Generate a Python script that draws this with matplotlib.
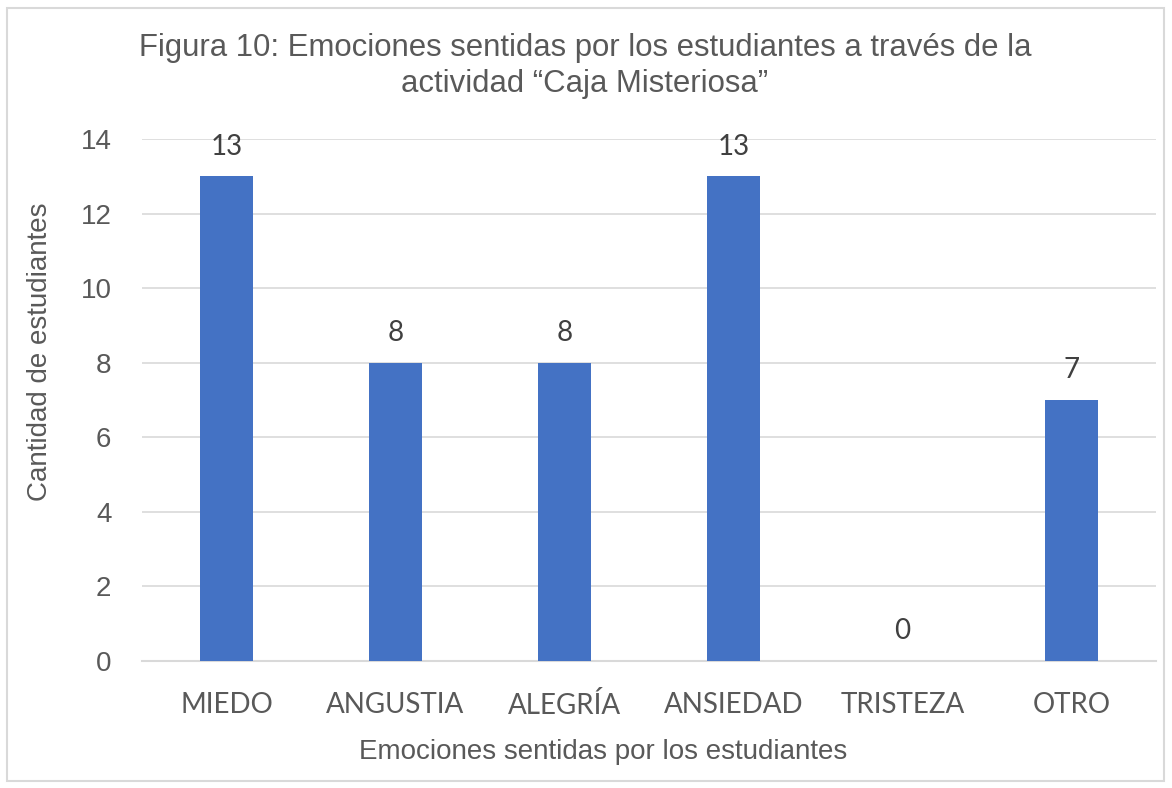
import matplotlib
matplotlib.use("Agg")
import matplotlib.pyplot as plt
from matplotlib.patches import Rectangle

categorias = ["MIEDO", "ANGUSTIA", "ALEGRÍA", "ANSIEDAD", "TRISTEZA", "OTRO"]
valores = [13, 8, 8, 13, 0, 7]
yticks = [0, 2, 4, 6, 8, 10, 12, 14]

titulo = "Figura 10: Emociones sentidas por los estudiantes a través de la\nactividad \u201cCaja Misteriosa\u201d"
xlab = "Emociones sentidas por los estudiantes"
ylab = "Cantidad de estudiantes"

azul = "#4472C4"
gris_texto = "#595959"
gris_linea = "#D9D9D9"

fig = plt.figure(figsize=(11.72, 7.88), dpi=100)
ax = fig.add_axes([142/1172, 1 - 661/788, 1014/1172, (661-139)/788])

x = range(len(categorias))
ax.bar(x, valores, width=0.315, color=azul, zorder=3)

ax.set_xlim(-0.5, len(categorias) - 0.5)
ax.set_ylim(0, 14)
ax.set_yticks(yticks)
ax.set_xticks(list(x))
ax.set_xticklabels(categorias, fontfamily="Lato", fontsize=20, color=gris_texto)
ax.tick_params(axis="y", labelsize=20, colors=gris_texto, length=0, pad=22)
ax.tick_params(axis="x", length=0, pad=22)
for lbl in ax.get_yticklabels():
    lbl.set_fontfamily("Liberation Sans")

ax.grid(axis="y", color=gris_linea, linewidth=1.2, zorder=0)
for s in ["top", "right", "left"]:
    ax.spines[s].set_visible(False)
ax.spines["bottom"].set_color(gris_linea)
ax.spines["bottom"].set_linewidth(1.5)

for xi, v in zip(x, valores):
    ax.text(xi, v + 0.45, str(v), ha="center", va="bottom", fontsize=20,
            fontfamily="Lato", color="#404040")

fig.text(585/1172, 1 - 66/788, titulo, ha="center", va="center", fontsize=22.4,
         fontfamily="Liberation Sans", color=gris_texto, linespacing=1.28)
fig.text(603/1172, 1 - 752/788, xlab, ha="center", va="center", fontsize=20,
         fontfamily="Liberation Sans", color=gris_texto)
fig.text(40/1172, 1 - 352/788, ylab, ha="center", va="center", rotation=90,
         fontsize=20, fontfamily="Liberation Sans", color=gris_texto)

fig.patches.append(Rectangle((7/1172, 1 - 781/788), 1157/1172, 773/788,
                             transform=fig.transFigure, fill=False,
                             edgecolor="#D9D9D9", linewidth=1.5))

fig.savefig("out.png", dpi=100)
